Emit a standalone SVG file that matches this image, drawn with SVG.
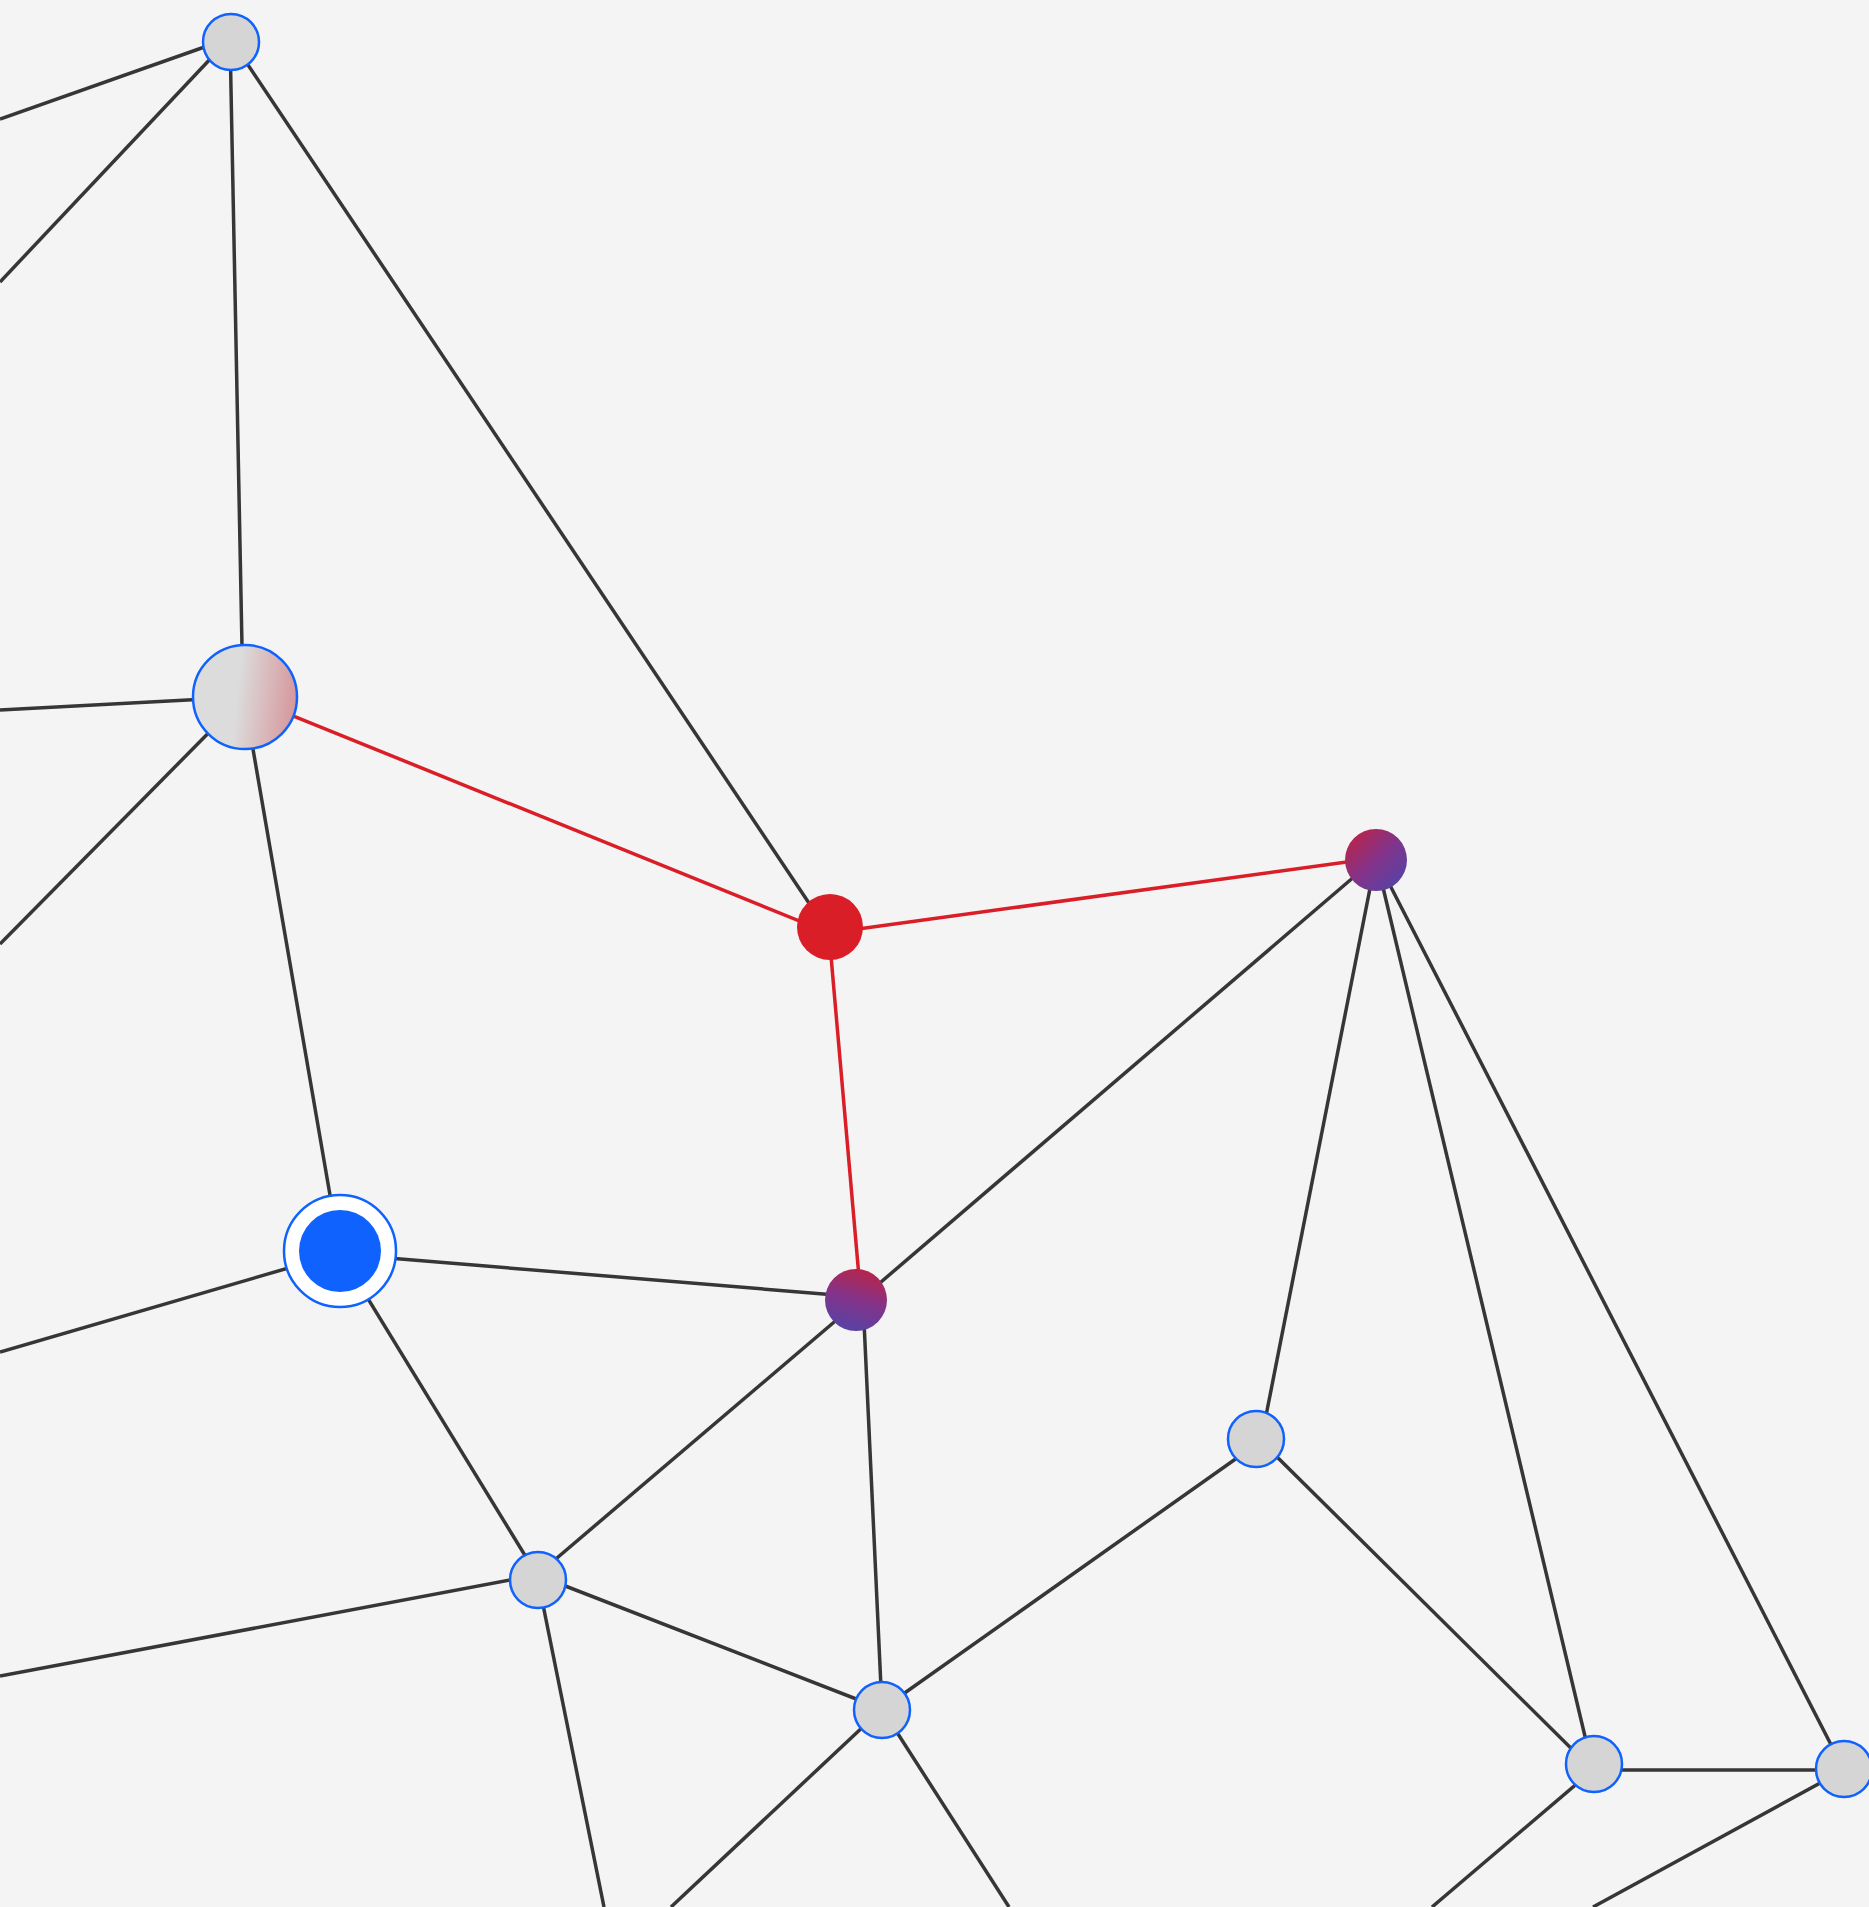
<svg xmlns="http://www.w3.org/2000/svg" width="1869" height="1907" viewBox="0 0 1869 1907">
<style>
.e{stroke:#363636;stroke-width:3.5;fill:none}
.r{stroke:#da1e28;stroke-width:3.5;fill:none}
.n{fill:#d5d5d5;stroke:#0f62fe;stroke-width:2.5}
</style>
<defs>
<linearGradient id="gPink" x1="0" y1="0.45" x2="1" y2="0.55">
<stop offset="0" stop-color="#dcdcdc"/>
<stop offset="0.42" stop-color="#dcdcdc"/>
<stop offset="1" stop-color="#d6969b"/>
</linearGradient>
<linearGradient id="gPurA" x1="0.1" y1="0.1" x2="0.9" y2="0.9">
<stop offset="0" stop-color="#b8244a"/>
<stop offset="0.5" stop-color="#83338a"/>
<stop offset="1" stop-color="#5543a5"/>
</linearGradient>
<linearGradient id="gPurB" x1="0.65" y1="0" x2="0.35" y2="1">
<stop offset="0" stop-color="#b8244a"/>
<stop offset="0.5" stop-color="#83338a"/>
<stop offset="1" stop-color="#5543a5"/>
</linearGradient>
</defs>
<rect width="1869" height="1907" fill="#f4f4f4"/>
<g id="connectors">
<line class="e" x1="230" y1="38" x2="0" y2="119"/>
<line class="e" x1="230" y1="38" x2="0" y2="282"/>
<line class="e" x1="230" y1="38" x2="243" y2="697"/>
<line class="e" x1="230" y1="38" x2="829" y2="933"/>
<line class="e" x1="244" y1="697" x2="0" y2="710"/>
<line class="e" x1="244" y1="697" x2="0" y2="944"/>
<line class="e" x1="244" y1="697" x2="340" y2="1253"/>
<line class="r" x1="244" y1="696" x2="829" y2="933"/>
<line class="r" x1="829" y1="933" x2="1376" y2="858"/>
<line class="r" x1="829" y1="933" x2="861" y2="1300"/>
<line class="e" x1="1376" y1="858" x2="860" y2="1300"/>
<line class="e" x1="1376" y1="858" x2="1261" y2="1441"/>
<line class="e" x1="1376" y1="858" x2="1593" y2="1770"/>
<line class="e" x1="1376" y1="858" x2="1844" y2="1770"/>
<line class="e" x1="340" y1="1253" x2="0" y2="1352"/>
<line class="e" x1="340" y1="1254" x2="860" y2="1297"/>
<line class="e" x1="340" y1="1253" x2="537" y2="1575"/>
<line class="e" x1="860" y1="1300" x2="537" y2="1575"/>
<line class="e" x1="863" y1="1300" x2="882" y2="1709"/>
<line class="e" x1="1261" y1="1441" x2="882" y2="1709"/>
<line class="e" x1="1261" y1="1441" x2="1593" y2="1770"/>
<line class="e" x1="537" y1="1575" x2="0" y2="1676"/>
<line class="e" x1="537" y1="1575" x2="882" y2="1709"/>
<line class="e" x1="537" y1="1575" x2="604" y2="1907"/>
<line class="e" x1="882" y1="1709" x2="671" y2="1907"/>
<line class="e" x1="882" y1="1709" x2="1009" y2="1907"/>
<line class="e" x1="1593" y1="1770" x2="1844" y2="1770"/>
<line class="e" x1="1593" y1="1770" x2="1432" y2="1907"/>
<line class="e" x1="1844" y1="1770" x2="1593" y2="1907"/>
</g>
<g id="node-top"><circle class="n" cx="231" cy="42" r="28"/></g>
<g id="node-big"><circle cx="245" cy="697" r="52" fill="url(#gPink)" stroke="#0f62fe" stroke-width="2.5"/></g>
<g id="node-red"><circle cx="830" cy="927" r="33" fill="#da1e28"/></g>
<g id="node-purple-a"><circle cx="1376" cy="860" r="31" fill="url(#gPurA)"/></g>
<g id="node-target"><circle cx="340" cy="1251" r="56" fill="#ffffff" stroke="#0f62fe" stroke-width="2.5"/><circle cx="340" cy="1251" r="41" fill="#0f62fe"/></g>
<g id="node-purple-b"><circle cx="856" cy="1300" r="31" fill="url(#gPurB)"/></g>
<g id="node-1256"><circle class="n" cx="1256" cy="1439" r="28"/></g>
<g id="node-538"><circle class="n" cx="538" cy="1580" r="28"/></g>
<g id="node-882"><circle class="n" cx="882" cy="1710" r="28"/></g>
<g id="node-1594"><circle class="n" cx="1594" cy="1764" r="28"/></g>
<g id="node-1844"><circle class="n" cx="1844" cy="1769" r="28"/></g>
</svg>
